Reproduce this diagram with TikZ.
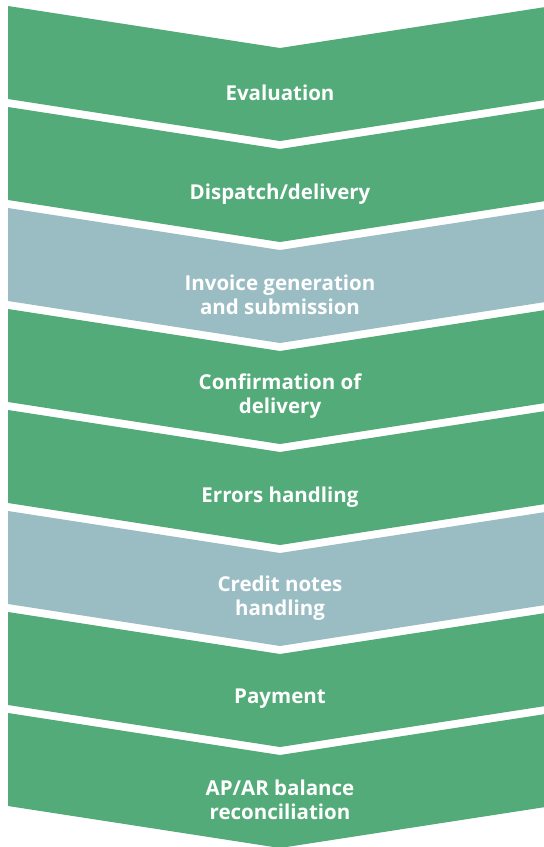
\documentclass[tikz,border=0pt]{standalone}
\usepackage{fontspec}
\setmainfont{Open Sans}
\definecolor{stepgreen}{RGB}{82,171,120}
\definecolor{stepgrey}{RGB}{154,189,196}
\tikzset{
  steplabel/.style={text=white, font=\fontsize{20.5}{24}\selectfont\bfseries, align=center, inner sep=0pt},
}
\begin{document}
\begin{tikzpicture}[x=1pt,y=-1pt]
\useasboundingbox (0,0) rectangle (544,847);
\foreach \k/\col/\txt in {
  0/stepgreen/{Evaluation},
  1/stepgreen/{Dispatch/delivery},
  2/stepgrey/{Invoice generation\\and submission},
  3/stepgreen/{Confirmation of\\delivery},
  4/stepgreen/{Errors handling},
  5/stepgrey/{Credit notes\\handling},
  6/stepgreen/{Payment},
  7/stepgreen/{AP/AR balance\\reconciliation}}{
  \pgfmathsetmacro{\yt}{6+101*\k}
  \fill[\col] (8,\yt) -- (280,\yt+42) -- (552,\yt) -- (552,\yt+93) -- (280,\yt+135) -- (8,\yt+93) -- cycle;
  \node[steplabel] (label\k) at (280,\yt+87) {\txt};
}
\end{tikzpicture}
\end{document}
